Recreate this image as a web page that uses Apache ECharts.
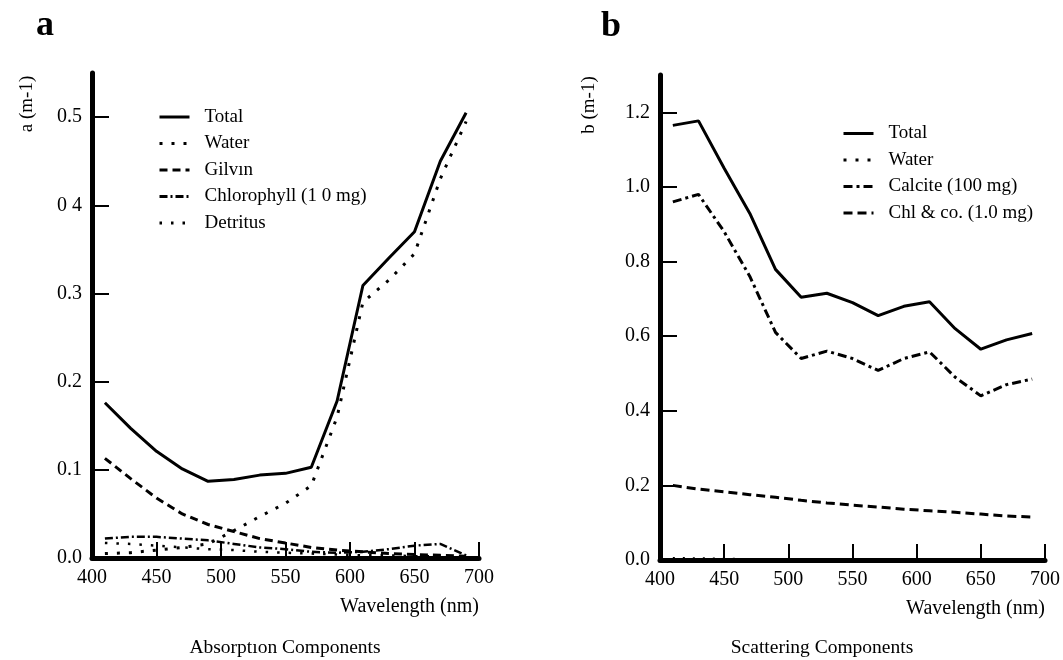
<!DOCTYPE html>
<html>
<head>
<meta charset="utf-8">
<script src="https://cdn.jsdelivr.net/npm/echarts@6/dist/echarts.min.js"></script>
<style>
html,body{margin:0;padding:0;background:#fff;}
#chart{width:1063px;height:660px;}
</style>
</head>
<body>
<div id="chart"></div>
<script>
// ---- data ----
const wavelengths = [410, 430, 450, 470, 490, 510, 530, 550, 570, 590, 610, 630, 650, 670, 690];

// Panel a: absorption components (m-1)
const absTotal       = [0.176, 0.147, 0.121, 0.101, 0.087, 0.089, 0.094, 0.096, 0.103, 0.178, 0.309, 0.340, 0.370, 0.450, 0.505];
const absWater       = [0.005, 0.006, 0.009, 0.012, 0.016, 0.031, 0.047, 0.062, 0.082, 0.160, 0.290, 0.315, 0.345, 0.430, 0.495];
const absGilvin      = [0.113, 0.090, 0.068, 0.050, 0.038, 0.030, 0.022, 0.017, 0.012, 0.009, 0.007, 0.005, 0.004, 0.003, 0.002];
const absChlorophyll = [0.022, 0.024, 0.024, 0.022, 0.020, 0.016, 0.012, 0.010, 0.007, 0.006, 0.007, 0.010, 0.014, 0.016, 0.003];
const absDetritus    = [0.017, 0.016, 0.014, 0.012, 0.010, 0.009, 0.007, 0.006, 0.005, 0.004, 0.003, 0.003, 0.002, 0.002, 0.001];

// Panel b: scattering components (m-1)
const scaTotal   = [1.165, 1.177, 1.050, 0.929, 0.779, 0.704, 0.715, 0.690, 0.655, 0.680, 0.692, 0.620, 0.565, 0.590, 0.607];
const scaWater   = [0.005, 0.004, 0.003, 0.002, 0.001, 0.001, 0.001, 0.001, 0.001, 0.001, 0.001, 0.001, 0.001, 0.001, 0.001];
const scaCalcite = [0.960, 0.980, 0.880, 0.760, 0.610, 0.540, 0.560, 0.540, 0.508, 0.540, 0.558, 0.490, 0.440, 0.470, 0.485];
const scaChl     = [0.200, 0.190, 0.183, 0.175, 0.168, 0.160, 0.153, 0.147, 0.142, 0.136, 0.132, 0.128, 0.123, 0.118, 0.115];

// tick labels
const xTicks = [400, 450, 500, 550, 600, 650, 700];
const aTickValues = [0, 0.1, 0.2, 0.3, 0.4, 0.5];
const aTickLabels = ['0.0', '0.1', '0.2', '0.3', '0 4', '0.5'];
const bTickValues = [0, 0.2, 0.4, 0.6, 0.8, 1.0, 1.2];
const bTickLabels = ['0.0', '0.2', '0.4', '0.6', '0.8', '1.0', '1.2'];

const aNames = ['Total', 'Water', 'Gilvın', 'Chlorophyll (1 0 mg)', 'Detritus'];
const bNames = ['Total', 'Water', 'Calcite (100 mg)', 'Chl & co. (1.0 mg)'];

// ---- chart ----
const FONT = 'Liberation Serif';
const pairs = arr => wavelengths.map((w, i) => [w, arr[i]]);

function xAxisCfg(gridIndex) {
  return {
    type: 'value', gridIndex, min: 400, max: 700, interval: 50,
    axisLine: { show: true, onZero: false, lineStyle: { color: '#000', width: 5 } },
    axisTick: { show: true, inside: true, length: 16, lineStyle: { color: '#000', width: 2 } },
    axisLabel: { margin: 10, color: '#000', fontFamily: FONT, fontSize: 20,
      formatter: v => xTicks.indexOf(v) >= 0 ? String(v) : '' },
    splitLine: { show: false },
    name: 'Wavelength (nm)', nameLocation: 'end', nameGap: 0,
    nameTextStyle: { color: '#000', fontFamily: FONT, fontSize: 20, align: 'right', verticalAlign: 'top', padding: [39, 0, 0, 0] }
  };
}
function yAxisCfg(gridIndex, max, vals, labels) {
  return {
    type: 'value', gridIndex, min: 0, max: max,
    axisLine: { show: true, onZero: false, lineStyle: { color: '#000', width: 5 } },
    axisTick: { show: true, inside: true, length: 17, customValues: vals, lineStyle: { color: '#000', width: 2 } },
    axisLabel: { margin: 10, color: '#000', fontFamily: FONT, fontSize: 20, customValues: vals,
      formatter: v => { let i = vals.findIndex(t => Math.abs(t - v) < 1e-9); return i >= 0 ? labels[i] : ''; } },
    splitLine: { show: false }
  };
}
function line(name, data, xi, type, width, z) {
  return {
    type: 'line', name, xAxisIndex: xi, yAxisIndex: xi, data: pairs(data),
    symbol: 'none', smooth: false, z: z || 2, silent: true,
    lineStyle: { color: '#000', width, type, cap: 'butt' },
    itemStyle: { color: '#000' }
  };
}
const legendCommon = {
  orient: 'vertical', itemWidth: 30, itemHeight: 14, itemGap: 6.5, padding: 0,
  textStyle: { color: '#000', fontFamily: FONT, fontSize: 19, lineHeight: 20, padding: [0, 0, 0, 10] },
  itemStyle: { opacity: 0 }, lineStyle: { width: 3 }, selectedMode: false
};

const chart = echarts.init(document.getElementById('chart'), null, { renderer: 'canvas' });
chart.setOption({
  backgroundColor: '#fff',
  animation: false,
  grid: [
    { left: 92, top: 73, width: 387, height: 485 },
    { left: 660, top: 75, width: 387, height: 485 }
  ],
  xAxis: [xAxisCfg(0), xAxisCfg(1)],
  yAxis: [yAxisCfg(0, 0.55, aTickValues, aTickLabels), yAxisCfg(1, 1.3, bTickValues, bTickLabels)],
  legend: [
    Object.assign({ data: aNames, left: 158, top: 107 }, legendCommon),
    Object.assign({ data: bNames, left: 842, top: 123.5 }, legendCommon)
  ],
  series: [
    line(aNames[0], absTotal, 0, 'solid', 3, 5),
    line(aNames[1], absWater, 0, [3, 9], 3),
    line(aNames[2], absGilvin, 0, [8, 5], 3),
    line(aNames[3], absChlorophyll, 0, [8, 3, 2, 3], 2.5),
    line(aNames[4], absDetritus, 0, [2.5, 9], 2.5),
    line(bNames[0], scaTotal, 1, 'solid', 3, 5),
    line(bNames[1], scaWater, 1, [2, 8], 2.5),
    line(bNames[2], scaCalcite, 1, [9, 4, 3, 4], 3),
    line(bNames[3], scaChl, 1, [9, 5], 3)
  ],
  graphic: [
    { type: 'text', x: 45, y: 26, style: { text: 'a', fill: '#000', font: 'bold 36px "Liberation Serif"', align: 'center', verticalAlign: 'middle' } },
    { type: 'text', x: 611, y: 27, style: { text: 'b', fill: '#000', font: 'bold 36px "Liberation Serif"', align: 'center', verticalAlign: 'middle' } },
    { type: 'text', x: 27, y: 104, rotation: Math.PI / 2, style: { text: 'a (m-1)', fill: '#000', font: '19px "Liberation Serif"', align: 'center', verticalAlign: 'middle' } },
    { type: 'text', x: 589, y: 105, rotation: Math.PI / 2, style: { text: 'b (m-1)', fill: '#000', font: '19px "Liberation Serif"', align: 'center', verticalAlign: 'middle' } },
    { type: 'text', x: 285, y: 648, style: { text: 'Absorptıon Components', fill: '#000', font: '19.5px "Liberation Serif"', align: 'center', verticalAlign: 'middle' } },
    { type: 'text', x: 822, y: 648, style: { text: 'Scattering Components', fill: '#000', font: '19.5px "Liberation Serif"', align: 'center', verticalAlign: 'middle' } }
  ]
});
</script>
</body>
</html>
